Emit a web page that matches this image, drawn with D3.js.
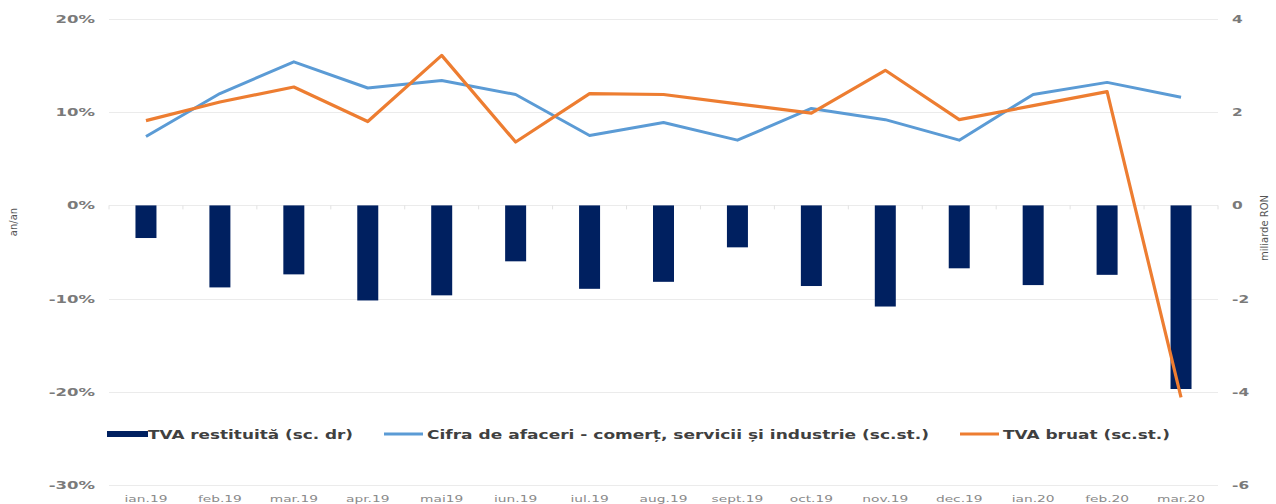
<!DOCTYPE html>
<html>
<head>
<meta charset="utf-8">
<script src="https://cdn.jsdelivr.net/npm/d3@7"></script>
<style>
  html, body { margin: 0; padding: 0; background: #fff; }
  svg { display: block; font-family: "DejaVu Sans", Verdana, sans-serif; }
</style>
</head>
<body>
<div id="chart"></div>
<script>
// CONSTANTS AND GLOBALS
const width = 1276;
const height = 504;
const margin = { top: 19, right: 58, bottom: 19, left: 109 };

// DATA
const months = ["ian.19", "feb.19", "mar.19", "apr.19", "mai19", "iun.19", "iul.19", "aug.19",
  "sept.19", "oct.19", "nov.19", "dec.19", "ian.20", "feb.20", "mar.20"];
// TVA restituita, miliarde RON (sc. dr)
const tvaRestituita = [-0.70, -1.76, -1.48, -2.04, -1.93, -1.20, -1.79, -1.64,
  -0.90, -1.73, -2.17, -1.35, -1.71, -1.49, -3.94];
// cifra de afaceri, % an/an (sc.st.)
const cifraAfaceri = [7.4, 12.0, 15.4, 12.6, 13.4, 11.9, 7.5, 8.9,
  7.0, 10.4, 9.2, 7.0, 11.9, 13.2, 11.6];
// TVA bruat, % an/an (sc.st.)
const tvaBruat = [9.1, 11.1, 12.7, 9.0, 16.1, 6.8, 12.0, 11.9,
  10.9, 9.9, 14.5, 9.2, 10.7, 12.2, -20.6];
const leftTicks = [20, 10, 0, -10, -20, -30];
const rightTicks = [4, 2, 0, -2, -4, -6];
const legendItems = [
  { label: "TVA restituită (sc. dr)", type: "bar" },
  { label: "Cifra de afaceri - comerț, servicii și industrie (sc.st.)", type: "blue" },
  { label: "TVA bruat (sc.st.)", type: "orange" }
];

const navy = "#002060";
const blue = "#5b9bd5";
const orange = "#ed7d31";
const grid = "#ebebeb";
const labelGrey = "#7a7a7a";

const svg = d3.select("#chart").append("svg")
  .attr("width", width)
  .attr("height", height);

// SCALES
const x = d3.scaleBand()
  .domain(months)
  .range([margin.left, width - margin.right])
  .paddingInner(0.716)
  .paddingOuter(0.358);

const yL = d3.scaleLinear().domain([-30, 20]).range([height - margin.bottom, margin.top]);
const yR = d3.scaleLinear().domain([-6, 4]).range([height - margin.bottom, margin.top]);

// gridlines
svg.append("g")
  .selectAll("line")
  .data(leftTicks)
  .join("line")
  .attr("x1", margin.left)
  .attr("x2", width - margin.right)
  .attr("y1", d => Math.round(yL(d)) + 0.5)
  .attr("y2", d => Math.round(yL(d)) + 0.5)
  .style("stroke", grid)
  .style("stroke-width", 1);

// small category ticks on the zero line
const boundaries = months.map(m => x(m) - x.step() * x.paddingInner() / 2);
boundaries.push(width - margin.right);
svg.append("g")
  .selectAll("line")
  .data(boundaries)
  .join("line")
  .attr("x1", d => d)
  .attr("x2", d => d)
  .attr("y1", yL(0))
  .attr("y2", yL(0) + 4)
  .style("stroke", "#e2e2e2");

// left axis labels (stretched like the original picture)
svg.append("g")
  .selectAll("text")
  .data(leftTicks)
  .join("text")
  .attr("transform", d => `translate(95,${yL(d) + 4}) scale(1.5,1)`)
  .attr("text-anchor", "end")
  .attr("font-size", 11)
  .attr("font-weight", "bold")
  .style("fill", labelGrey)
  .text(d => d + "%");

// right axis labels
svg.append("g")
  .selectAll("text")
  .data(rightTicks)
  .join("text")
  .attr("transform", d => `translate(1232,${yR(d) + 4}) scale(1.4,1)`)
  .attr("text-anchor", "start")
  .attr("font-size", 11)
  .attr("font-weight", "bold")
  .style("fill", labelGrey)
  .text(d => d);

// axis titles
svg.append("text")
  .attr("transform", "translate(17,222) rotate(-90)")
  .attr("text-anchor", "middle")
  .attr("font-size", 10)
  .style("fill", "#555")
  .text("an/an");

svg.append("text")
  .attr("transform", "translate(1268,228) rotate(-90)")
  .attr("text-anchor", "middle")
  .attr("font-size", 10)
  .style("fill", "#555")
  .text("miliarde RON");

// x labels
svg.append("g")
  .selectAll("text")
  .data(months)
  .join("text")
  .attr("transform", d => `translate(${x(d) + x.bandwidth() / 2},502) scale(1.45,1)`)
  .attr("text-anchor", "middle")
  .attr("font-size", 9.5)
  .style("fill", "#8a8a8a")
  .text(d => d);

// BARS
svg.append("g")
  .selectAll("rect")
  .data(tvaRestituita)
  .join("rect")
  .attr("x", (d, i) => x(months[i]))
  .attr("y", d => Math.min(yR(0), yR(d)))
  .attr("width", x.bandwidth())
  .attr("height", d => Math.abs(yR(d) - yR(0)))
  .style("fill", navy);

// LINES
const line = d3.line()
  .x((d, i) => x(months[i]) + x.bandwidth() / 2)
  .y(d => yL(d));

svg.append("path")
  .datum(cifraAfaceri)
  .attr("d", line)
  .style("fill", "none")
  .style("stroke", blue)
  .style("stroke-width", 3)
  .style("stroke-linejoin", "round");

svg.append("path")
  .datum(tvaBruat)
  .attr("d", line)
  .style("fill", "none")
  .style("stroke", orange)
  .style("stroke-width", 3.2)
  .style("stroke-linejoin", "round");

// LEGEND
const legendX = [107, 384, 960];
const legendW = [205, 502, 167];
const legendY = 434;
const legend = svg.append("g")
  .selectAll("g")
  .data(legendItems)
  .join("g")
  .attr("transform", (d, i) => `translate(${legendX[i]},${legendY})`);

legend.append("rect")
  .attr("x", 0)
  .attr("y", d => d.type === "bar" ? -3 : -1.5)
  .attr("width", (d, i) => i === 0 ? 41 : 39)
  .attr("height", d => d.type === "bar" ? 6 : 3)
  .style("fill", d => d.type === "bar" ? navy : d.type === "blue" ? blue : orange);

legend.append("text")
  .attr("x", (d, i) => i === 0 ? 41 : 43)
  .attr("y", 5)
  .attr("font-size", 12.5)
  .attr("font-weight", "bold")
  .attr("textLength", (d, i) => legendW[i])
  .attr("lengthAdjust", "spacingAndGlyphs")
  .style("fill", "#404040")
  .text(d => d.label);
</script>
</body>
</html>
